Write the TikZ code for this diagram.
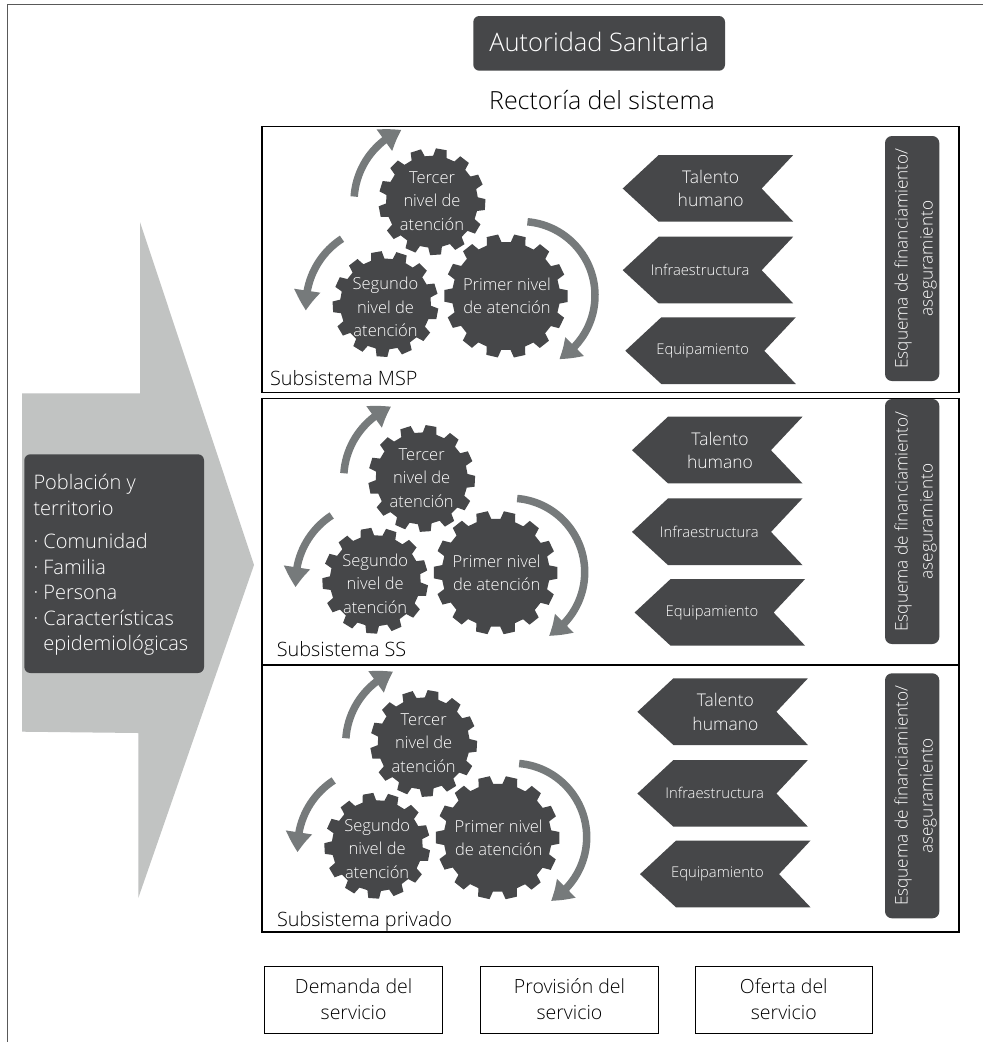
\documentclass[tikz,border=0pt]{standalone}
\usepackage{fontspec}
\setmainfont{Open Sans Light}
\usetikzlibrary{arrows.meta,bending}
\definecolor{darkbox}{HTML}{464749}
\definecolor{bigarrow}{HTML}{C1C3C2}
\definecolor{turn}{HTML}{767A7B}
\tikzset{
  x=1pt,y=-1pt,
  fsA/.style={font=\fontsize{16.5}{23.5}\selectfont},
  gearlabel/.style={text=white,align=center,inner sep=0pt,fsA},
  turnarrow/.style={draw=turn,line width=7.5pt,-{Triangle[length=20pt,width=25pt,bend]}},
  chev/.style={fill=darkbox},
  chevlabel/.style={text=white,align=center,inner sep=0pt},
  finbox/.style={fill=darkbox,rounded corners=7pt},
  frame/.style={draw=black,line width=1.1pt},
  footbox/.style={draw=black,line width=1pt,minimum width=177.5pt,minimum height=67pt,inner sep=0pt,align=center,
    font=\fontsize{19.5}{26}\selectfont},
}
% cx cy R r teeth phase
\newcommand{\gearshape}[6]{%
  \pgfmathsetmacro{\sp}{360/#5}
  \pgfmathsetmacro{\tb}{0.31*\sp}
  \pgfmathsetmacro{\tt}{0.21*\sp}
  \pgfmathsetmacro{\last}{#5-1}
  \begin{scope}[shift={(#1,#2)}]
  \fill[darkbox] (#6-\tb:#4)
    \foreach \i in {0,...,\last}{
      \pgfextra{\pgfmathsetmacro{\a}{#6+\i*\sp}}
      -- (\a-\tb:#4) -- (\a-\tt:#3) -- (\a+\tt:#3) -- (\a+\tb:#4)
    } -- cycle;
  \end{scope}}
\newcommand{\gearset}[3]{%
  \begin{scope}[shift={(#2,#3)}]
    \gearshape{432}{201.7}{53.5}{46}{13}{-80}
    \gearshape{506}{296}{62}{54}{14}{-77}
    \gearshape{385.5}{304}{53}{45.5}{13}{-100}
    \node[gearlabel] (#1t) at (432,201) {Tercer\\nivel de\\atención};
    \node[gearlabel] (#1s) at (385.5,307) {Segundo\\nivel de\\atención};
    \node[gearlabel] (#1p) at (507,296) {Primer nivel\\de atención};
    \draw[turnarrow] (432,202) ++(-176:78) arc[start angle=-176,end angle=-113,radius=78];
    \draw[turnarrow] (385,305) ++(-123:79) arc[start angle=-123,end angle=-184,radius=79];
    \draw[turnarrow] (521,295.5) ++(-85:74) arc[start angle=-85,end angle=59,radius=74];
  \end{scope}}
\newcommand{\chevshape}[3]{%
  \fill[chev] (#1,#2+33.5) -- (#1+36,#2) -- (#1+170.5,#2) -- (#1+139,#2+33.5) -- (#1+170.5,#2+66.7) -- (#1+36,#2+66.7) -- cycle;}
\newcommand{\chevset}[3]{%
  \begin{scope}[shift={(#2,#3)}]
    \chevshape{622.7}{155}{}
    \chevshape{622.7}{236.7}{}
    \chevshape{625.3}{317.3}{}
    \node[chevlabel,font=\fontsize{17.5}{23.5}\selectfont] (#1a) at (710.7,188.5) {Talento\\humano};
    \node[chevlabel,font=\fontsize{14.8}{16}\selectfont] (#1b) at (700,270) {Infraestructura};
    \node[chevlabel,font=\fontsize{14.8}{16}\selectfont] (#1c) at (702.7,351) {Equipamiento};
  \end{scope}}
\newcommand{\finset}[3]{%
  \fill[finbox] (885,#2) rectangle (939.3,#3);
  \node[text=white,align=center,rotate=90,inner sep=0pt,font=\fontsize{17.2}{25}\selectfont] (#1) at (915.5,{(#2+#3)/2})
    {Esquema de financiamiento/\\aseguramiento};}
\begin{document}
\begin{tikzpicture}
\useasboundingbox (0,0) rectangle (983,1042);
\fill[white] (0,0) rectangle (983,1042);
\draw[draw=black!65,line width=1pt] (7.5,1042) -- (7.5,4.5) -- (983,4.5);
% big arrow
\fill[bigarrow] (22,393.3) -- (140,393.3) -- (140,222) -- (254,565) -- (138.3,898) -- (138.3,733) -- (22,731.7) -- cycle;
% population
\fill[darkbox,rounded corners=6pt] (24.3,454.3) rectangle (204,673);
\node[anchor=north west,text=white,align=left,inner sep=0pt,font=\fontsize{20}{25.5}\selectfont] (pob) at (33.3,474)
  {Población y\\territorio\\[8pt]· Comunidad\\· Familia\\· Persona\\· Características\\\phantom{· }epidemiológicas};
% top
\fill[darkbox,rounded corners=6pt] (473.3,16) rectangle (725,70.7);
\node[text=white,inner sep=0pt,font=\fontsize{25.5}{30}\selectfont] (aut) at (599,42) {Autoridad Sanitaria};
\node[inner sep=0pt,font=\fontsize{25}{30}\selectfont] (rect) at (602,100) {Rectoría del sistema};
% frames
\draw[frame] (262,126.7) rectangle (959,392.3);
\draw[frame] (262,398.3) rectangle (959,665);
\draw[frame] (262,665) rectangle (959,932);
% groups
\gearset{ga}{0}{0}
\gearset{gb}{-10.3}{276.7}
\gearset{gc}{-8.3}{541.7}
\chevset{ca}{0}{0}
\chevset{cb}{9.3}{261.7}
\chevset{cc}{14.7}{523.3}
\finset{fa}{136}{381}
\finset{fb}{399}{644}
\finset{fc}{673.3}{918.3}
\node[anchor=base west,inner sep=0pt,font=\fontsize{19.8}{22}\selectfont] (sa) at (270,385) {Subsistema MSP};
\node[anchor=base west,inner sep=0pt,font=\fontsize{19.8}{22}\selectfont] (sb) at (276.7,656.7) {Subsistema SS};
\node[anchor=base west,inner sep=0pt,font=\fontsize{19.8}{22}\selectfont] (sc) at (277,926.7) {Subsistema privado};
% foot
\node[footbox] (d1) at (353.6,999.5) {Demanda del\\servicio};
\node[footbox] (d2) at (569.5,999.5) {Provisión del\\servicio};
\node[footbox] (d3) at (783.8,999.5) {Oferta del\\servicio};
\end{tikzpicture}
\end{document}
